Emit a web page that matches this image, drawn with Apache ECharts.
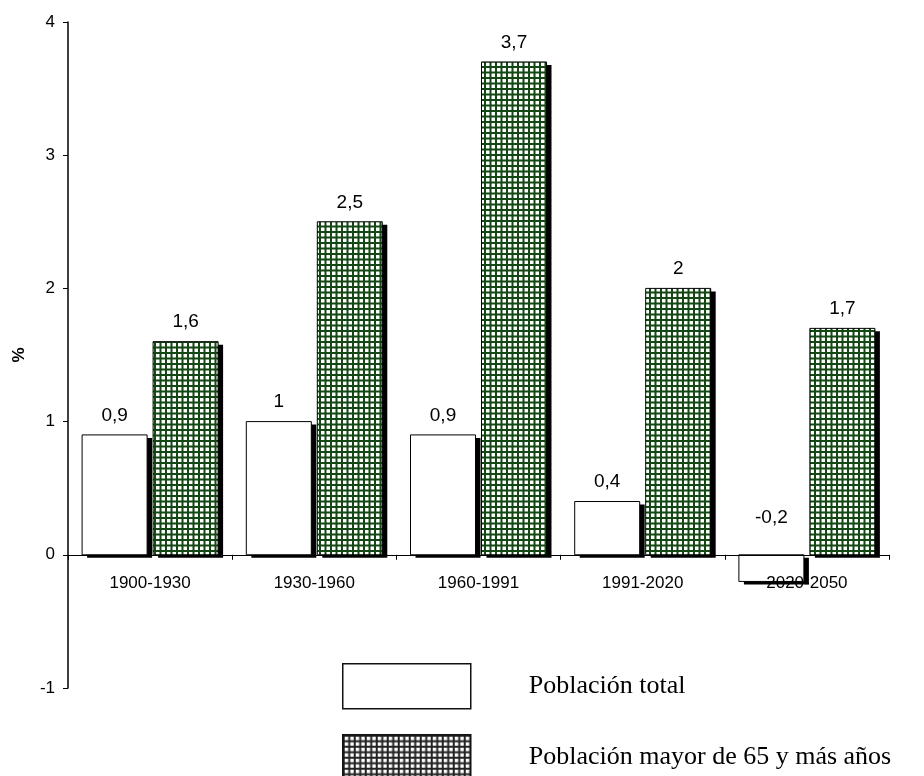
<!DOCTYPE html>
<html>
<head>
<meta charset="utf-8">
<script src="https://cdn.jsdelivr.net/npm/echarts@6/dist/echarts.min.js"></script>
<style>
  html, body { margin: 0; padding: 0; background: #ffffff; }
  #chart { width: 924px; height: 776px; }
</style>
</head>
<body>
<div id="chart"></div>
<script>
// Tasa de crecimiento anual (%) por periodo
const periodos = ['1900-1930', '1930-1960', '1960-1991', '1991-2020', '2020-2050'];
const poblacionTotal = [0.9, 1, 0.9, 0.4, -0.2];
const poblacionMayor = [1.6, 2.5, 3.7, 2, 1.7];
const ejeY = { min: -1, max: 4, interval: 1 };
const nombresSeries = ['Población total', 'Población mayor de 65 y más años'];

// Trama cuadriculada para las barras rellenas
function trama(lineColor) {
  const c = document.createElement('canvas');
  c.width = 11; c.height = 11;
  const ctx = c.getContext('2d');
  ctx.fillStyle = '#ffffff';
  ctx.fillRect(0, 0, 11, 11);
  ctx.fillStyle = lineColor;
  ctx.fillRect(0, 0, 11, 2);
  ctx.fillRect(0, 5.5, 11, 2);
  ctx.fillRect(0, 0, 2, 11);
  ctx.fillRect(5.5, 0, 2, 11);
  return { image: c, repeat: 'repeat' };
}

const coma = v => String(v).replace('.', ',');

const ANCHO_BARRA = 65;
const SEPARACION = 6;
const SOMBRA = [5, 3];

// Barra con sombra sólida desplazada y etiqueta de valor
function barraConSombra(lado, relleno) {
  return function (params, api) {
    const cat = api.value(0);
    const val = api.value(1);
    const base = api.coord([cat, 0]);
    const tope = api.coord([cat, val]);
    const x = lado < 0 ? base[0] - SEPARACION / 2 - ANCHO_BARRA : base[0] + SEPARACION / 2;
    const y = Math.min(base[1], tope[1]);
    const h = Math.abs(base[1] - tope[1]);
    const ly = val >= 0 ? tope[1] - 10 : base[1] - 28;
    return {
      type: 'group',
      children: [
        { type: 'rect', shape: { x: x + SOMBRA[0], y: y + SOMBRA[1], width: ANCHO_BARRA, height: h },
          style: { fill: '#000' } },
        { type: 'rect', shape: { x: x, y: y, width: ANCHO_BARRA, height: h },
          style: { fill: relleno, stroke: '#000', lineWidth: 1 } },
        { type: 'text', style: { text: coma(val), x: x + ANCHO_BARRA / 2, y: ly,
          align: 'center', verticalAlign: 'bottom', fill: '#000',
          fontFamily: 'Liberation Sans', fontSize: 19 } }
      ]
    };
  };
}

const rellenoVerde = trama('#134713');
const rellenoLeyenda = trama('#222222');

const chart = echarts.init(document.getElementById('chart'), null, { renderer: 'canvas' });

const estiloLeyenda = {
  orient: 'vertical',
  left: 342,
  padding: 0,
  itemWidth: 128,
  itemHeight: 45,
  icon: 'rect',
  textStyle: { fontFamily: 'Liberation Serif', fontSize: 26, color: '#000', padding: [0, 0, 0, 53] },
  itemStyle: { borderWidth: 1.5, borderColor: '#111' }
};

const opcion = {
  animation: false,
  backgroundColor: '#ffffff',
  grid: { left: 68, right: 35, top: 22, bottom: 88 },
  legend: [
    Object.assign({}, estiloLeyenda, { top: 663,
      data: [{ name: nombresSeries[0], itemStyle: { color: '#ffffff' } }] }),
    Object.assign({}, estiloLeyenda, { top: 734,
      data: [{ name: nombresSeries[1], itemStyle: { color: rellenoLeyenda } }] })
  ],
  xAxis: {
    type: 'category',
    data: periodos,
    z: 5,
    axisLine: { onZero: false, lineStyle: { color: '#000', width: 1 } },
    axisTick: { show: true, length: 5, lineStyle: { color: '#000' } },
    axisLabel: { color: '#000', fontFamily: 'Liberation Sans', fontSize: 17, margin: 20 }
  },
  yAxis: {
    type: 'value',
    min: ejeY.min,
    max: ejeY.max,
    interval: ejeY.interval,
    name: '%',
    nameLocation: 'middle',
    nameRotate: 90,
    nameGap: 40,
    nameTextStyle: { fontFamily: 'Liberation Sans', fontWeight: 'bold', fontSize: 17, color: '#000' },
    axisLine: { show: true, lineStyle: { color: '#000', width: 1.5 } },
    axisTick: { show: true, length: 5, lineStyle: { color: '#000' } },
    splitLine: { show: false },
    axisLabel: { color: '#000', fontFamily: 'Liberation Sans', fontSize: 17, margin: 13 }
  },
  series: [
    {
      name: nombresSeries[0],
      type: 'custom',
      renderItem: barraConSombra(-1, '#ffffff'),
      itemStyle: { color: '#ffffff' },
      encode: { x: 0, y: 1 },
      data: poblacionTotal.map((v, i) => [i, v]),
      z: 3
    },
    {
      name: nombresSeries[1],
      type: 'custom',
      renderItem: barraConSombra(1, rellenoVerde),
      itemStyle: { color: rellenoLeyenda },
      encode: { x: 0, y: 1 },
      data: poblacionMayor.map((v, i) => [i, v]),
      z: 3
    }
  ]
};

chart.setOption(opcion);

// Lleva el eje de categorías a la línea del cero
const cero = chart.convertToPixel({ yAxisIndex: 0 }, 0);
const pie = chart.getHeight() - opcion.grid.bottom;
chart.setOption({ xAxis: { offset: cero - pie } });
</script>
</body>
</html>
